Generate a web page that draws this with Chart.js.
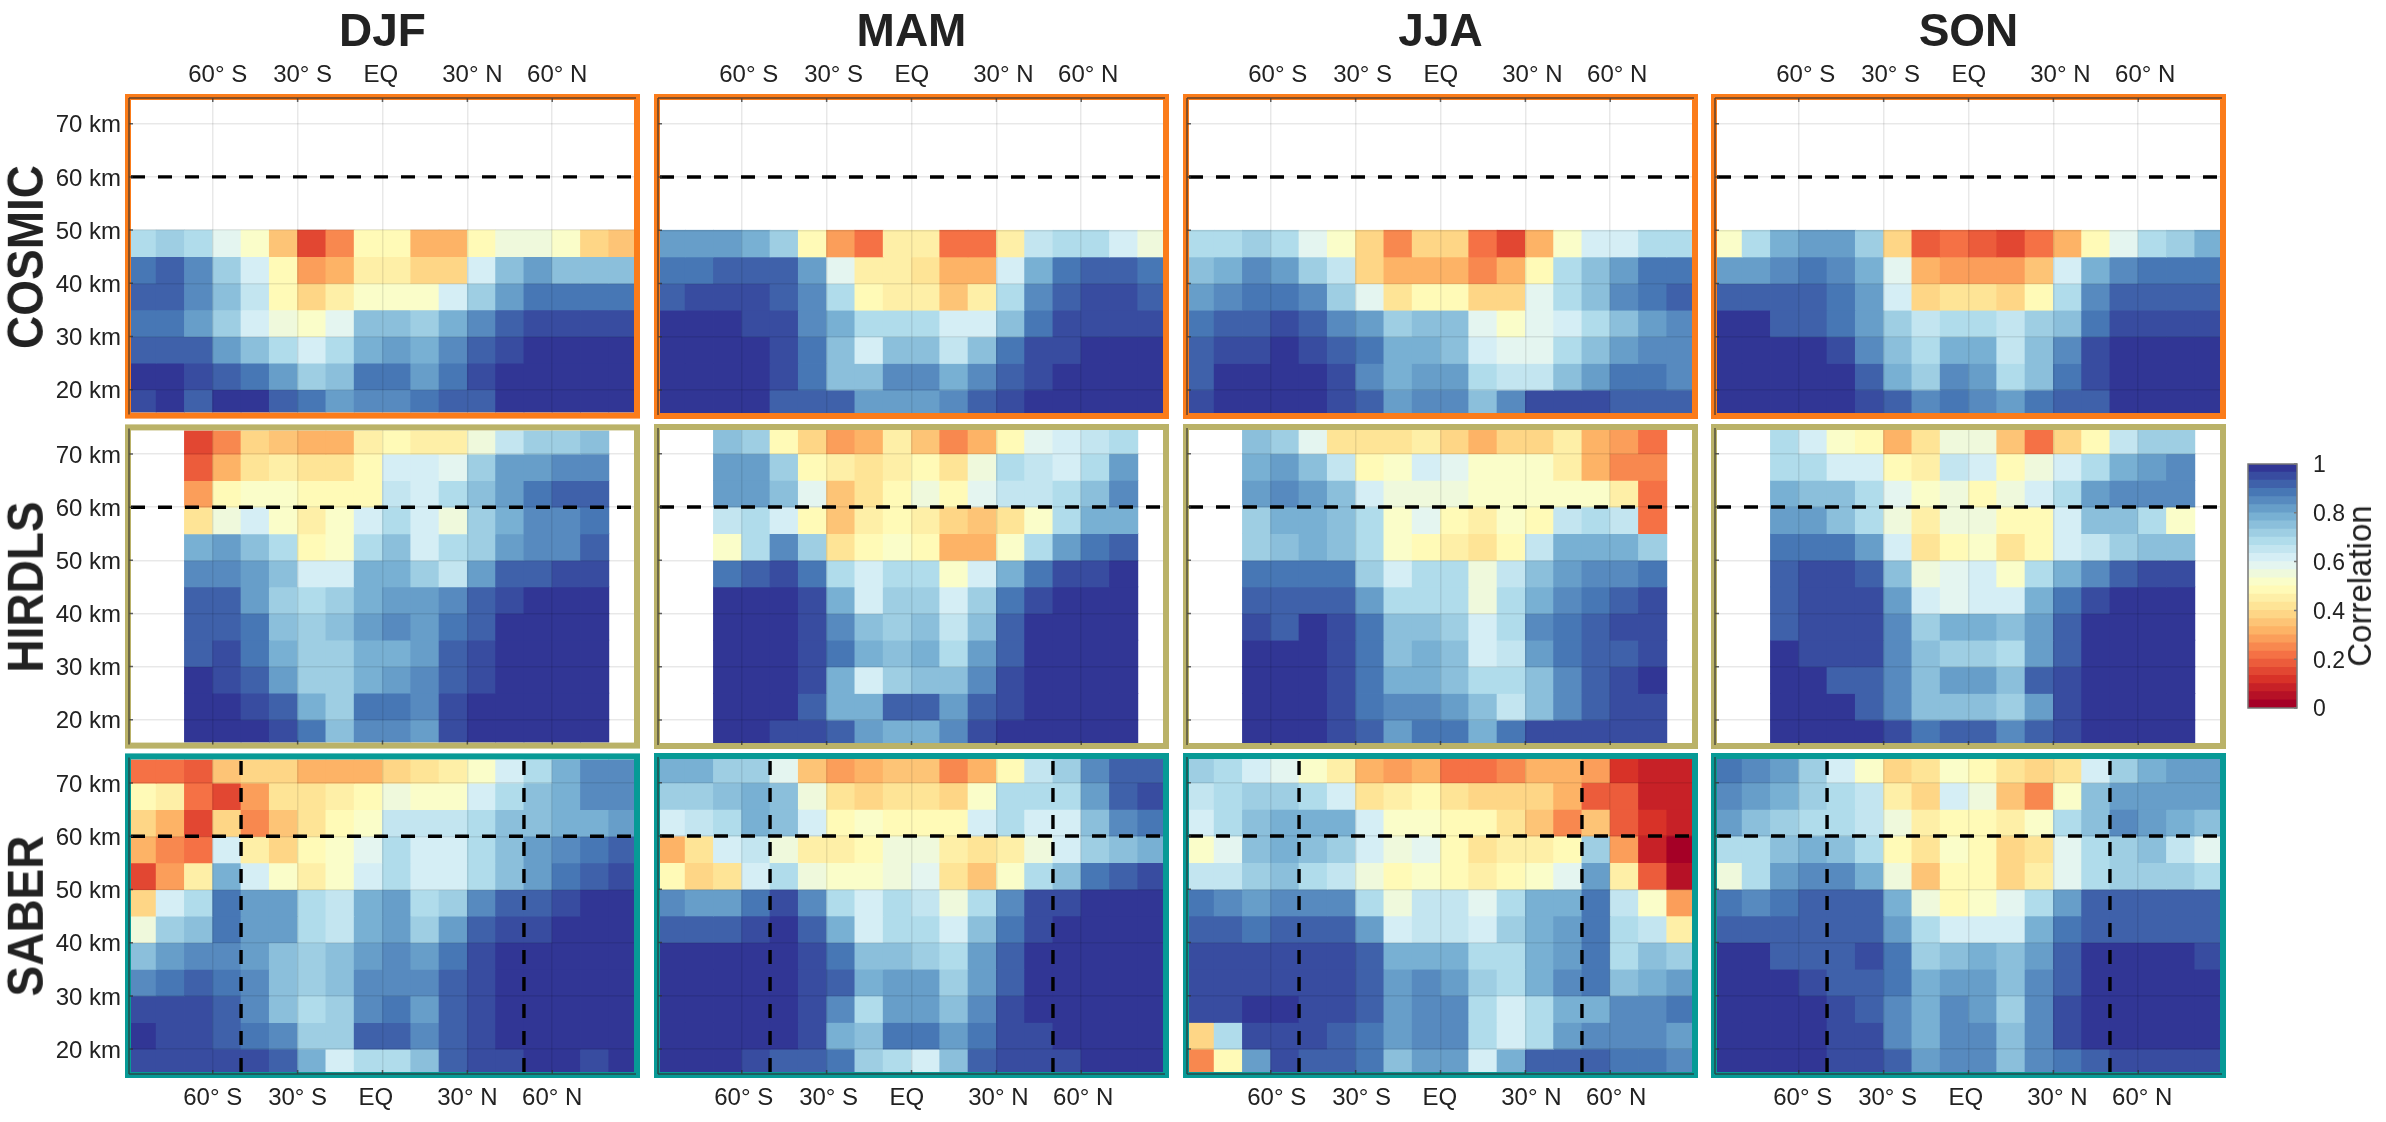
<!DOCTYPE html>
<html>
<head>
<meta charset="utf-8">
<title>Correlation by season and instrument</title>
<script src="https://cdn.jsdelivr.net/npm/chart.js@4/dist/chart.umd.js"></script>
<style>
    html, body { margin: 0; padding: 0; background: #fff; }
    #page { position: relative; width: 2386px; height: 1122px; overflow: hidden; }
    #page canvas { position: absolute; }
    .label { position: absolute; font-family: "Liberation Sans", Arial, sans-serif; color: #222; white-space: nowrap; transform: translate(-50%, -50%); }
    .label.bold { font-weight: bold; }
    .label.turned { transform: translate(-50%, -50%) rotate(-90deg); }
    .label.turned.bold { transform: translate(-50%, -50%) rotate(-90deg) scale(1, 1.08); }
</style>
</head>
<body>
<div id="page"></div>
<script>
const seasons = ['DJF', 'MAM', 'JJA', 'SON'];
const instruments = ['COSMIC', 'HIRDLS', 'SABER'];

const latTicks = [-60, -30, 0, 30, 60];
const latLabels = ['60° S', '30° S', 'EQ\u00a0\u00a0', '30° N', '60° N'];
const altTicks = [20, 30, 40, 50, 60, 70];
const colorbarTicks = [0, 0.2, 0.4, 0.6, 0.8, 1];

// cell centres (10 degree columns) and lower edges of the 5 km rows, top row first
const latCells = [-85, -75, -65, -55, -45, -35, -25, -15, -5, 5, 15, 25, 35, 45, 55, 65, 75, 85];
const altCells = [70, 65, 60, 55, 50, 45, 40, 35, 30, 25, 20, 15];

// reference lines
const refAlt = [60];
const refLat = [-50, 50];

const _ = null;

// RdYlBu, low to high
const colorStops = ['#a50026', '#d73027', '#f46d43', '#fdae61', '#fee090', '#ffffbf', '#e0f3f8', '#abd9e9', '#74add1', '#4575b4', '#313695'];
const colorLevels = 30;

// COSMIC only reaches 50 km, the rows above are empty
const cosmicDJF = [
    [.69,.73,.69,.57,.50,.36,.14,.24,.48,.48,.33,.33,.49,.56,.54,.50,.39,.34],
    [.89,.91,.85,.73,.61,.49,.27,.31,.46,.46,.39,.39,.61,.76,.80,.76,.76,.76],
    [.91,.91,.85,.75,.64,.49,.37,.45,.53,.53,.50,.60,.72,.82,.89,.89,.89,.89],
    [.88,.88,.82,.73,.60,.54,.53,.59,.74,.74,.73,.79,.85,.91,.94,.94,.94,.94],
    [.93,.93,.91,.82,.76,.67,.63,.69,.79,.82,.78,.85,.92,.94,.99,.99,.99,.99],
    [.98,.98,.94,.91,.88,.82,.73,.76,.88,.88,.82,.88,.94,.99,.99,.99,.99,.99],
    [.94,.98,.93,.98,.98,.93,.88,.82,.85,.85,.88,.91,.93,.99,.99,.99,.99,.99]
];
const cosmicMAM = [
    [.82,.82,.82,.79,.73,.49,.27,.21,.44,.44,.21,.20,.46,.64,.69,.69,.61,.54],
    [.88,.88,.91,.91,.91,.82,.58,.44,.44,.41,.33,.33,.60,.79,.88,.91,.91,.88],
    [.91,.94,.94,.94,.91,.85,.68,.48,.45,.45,.35,.45,.67,.84,.91,.94,.94,.91],
    [.98,.98,.98,.94,.94,.85,.79,.69,.69,.69,.60,.63,.75,.88,.94,.94,.94,.94],
    [.98,.98,.98,.98,.94,.88,.75,.63,.76,.76,.66,.75,.89,.94,.94,.98,.98,.98],
    [.98,.98,.98,.98,.94,.88,.75,.75,.85,.85,.78,.85,.91,.94,.98,.98,.98,.98],
    [.98,.98,.98,.98,.93,.93,.91,.82,.82,.82,.85,.91,.94,.98,.98,.98,.98,.98]
];
const cosmicJJA = [
    [.69,.69,.73,.69,.57,.53,.38,.24,.38,.37,.20,.14,.32,.53,.61,.63,.69,.67],
    [.76,.79,.85,.82,.73,.64,.38,.30,.31,.30,.26,.32,.49,.67,.76,.82,.89,.89],
    [.82,.85,.88,.88,.85,.73,.57,.42,.49,.49,.38,.38,.57,.69,.76,.85,.89,.91],
    [.88,.91,.93,.94,.91,.85,.82,.73,.76,.74,.57,.50,.57,.63,.69,.75,.82,.85],
    [.91,.94,.94,.98,.94,.92,.88,.79,.79,.76,.63,.57,.57,.67,.76,.82,.85,.85],
    [.91,.98,.98,.98,.98,.94,.85,.79,.82,.82,.69,.66,.66,.76,.82,.88,.88,.85],
    [.94,.98,.98,.98,.98,.94,.91,.82,.85,.85,.75,.85,.94,.94,.94,.91,.91,.91]
];
const cosmicSON = [
    [.50,.69,.79,.82,.82,.73,.37,.17,.21,.17,.14,.20,.32,.47,.58,.69,.73,.79],
    [.82,.82,.85,.88,.85,.79,.57,.32,.27,.27,.27,.36,.60,.79,.85,.88,.88,.88],
    [.91,.91,.91,.91,.88,.82,.60,.39,.43,.43,.39,.49,.68,.85,.91,.91,.91,.91],
    [.98,.98,.93,.91,.88,.82,.70,.64,.69,.69,.65,.73,.76,.88,.94,.94,.94,.94],
    [.98,.98,.98,.98,.94,.85,.75,.69,.79,.79,.64,.75,.85,.94,.98,.98,.98,.98],
    [.98,.98,.98,.98,.98,.91,.79,.73,.85,.82,.69,.75,.88,.94,.98,.98,.98,.98],
    [.98,.98,.98,.98,.98,.94,.91,.85,.88,.85,.82,.88,.91,.93,.98,.98,.98,.98]
];

const hirdlsDJF = [
    [_,_,.15,.25,.38,.36,.30,.33,.45,.48,.46,.46,.54,.66,.73,.71,.76,_],
    [_,_,.17,.32,.41,.45,.40,.40,.49,.63,.60,.59,.72,.80,.82,.85,.85,_],
    [_,_,.29,.49,.53,.50,.49,.48,.49,.64,.60,.67,.76,.82,.88,.91,.91,_],
    [_,_,.41,.56,.60,.50,.46,.50,.60,.67,.63,.56,.72,.79,.85,.85,.88,_],
    [_,_,.79,.80,.76,.67,.49,.53,.69,.76,.62,.67,.72,.82,.85,.85,.91,_],
    [_,_,.85,.85,.82,.76,.60,.63,.79,.79,.70,.66,.82,.92,.92,.94,.94,_],
    [_,_,.91,.91,.82,.73,.67,.70,.79,.82,.80,.85,.91,.94,.98,.98,.98,_],
    [_,_,.93,.91,.88,.76,.70,.76,.82,.85,.82,.88,.93,.98,.98,.98,.98,_],
    [_,_,.93,.94,.88,.79,.73,.73,.79,.79,.82,.91,.94,.98,.98,.98,.98,_],
    [_,_,.98,.94,.91,.82,.73,.70,.79,.82,.85,.91,.94,.98,.98,.98,.98,_],
    [_,_,.98,.98,.94,.92,.79,.70,.88,.88,.85,.94,.98,.98,.98,.98,.98,_],
    [_,_,.98,.98,.98,.94,.88,.75,.85,.85,.82,.94,.98,.98,.98,.98,.98,_]
];
const hirdlsMAM = [
    [_,_,.76,.73,.49,.37,.27,.33,.46,.36,.26,.33,.47,.57,.62,.65,.69,_],
    [_,_,.82,.82,.73,.49,.46,.41,.46,.48,.41,.56,.68,.65,.62,.68,.82,_],
    [_,_,.82,.82,.76,.57,.35,.41,.49,.54,.49,.57,.64,.64,.68,.76,.85,_],
    [_,_,.65,.69,.63,.49,.35,.46,.48,.45,.37,.35,.41,.53,.69,.79,.79,_],
    [_,_,.50,.69,.85,.73,.40,.48,.53,.49,.33,.31,.50,.69,.82,.89,.92,_],
    [_,_,.89,.91,.94,.88,.67,.60,.69,.68,.53,.60,.79,.88,.94,.94,.98,_],
    [_,_,.98,.98,.98,.94,.79,.63,.73,.73,.60,.72,.88,.94,.98,.98,.98,_],
    [_,_,.98,.98,.98,.94,.85,.75,.73,.74,.66,.75,.91,.98,.98,.98,.98,_],
    [_,_,.98,.98,.98,.94,.89,.79,.75,.79,.69,.82,.91,.98,.98,.98,.98,_],
    [_,_,.98,.98,.98,.94,.79,.62,.73,.76,.76,.85,.94,.98,.98,.98,.98,_],
    [_,_,.98,.98,.98,.91,.79,.79,.91,.91,.82,.91,.94,.98,.98,.98,.98,_],
    [_,_,.98,.98,.94,.94,.91,.82,.79,.79,.85,.94,.98,.98,.98,.98,.98,_]
];
const hirdlsJJA = [
    [_,_,.75,.72,.57,.41,.41,.41,.46,.37,.33,.37,.39,.46,.33,.27,.23,_],
    [_,_,.79,.82,.75,.64,.49,.50,.60,.57,.53,.50,.50,.46,.32,.24,.24,_],
    [_,_,.82,.85,.82,.75,.60,.54,.56,.54,.51,.50,.50,.50,.53,.46,.20,_],
    [_,_,.73,.79,.79,.76,.67,.50,.57,.49,.46,.50,.49,.64,.69,.64,.20,_],
    [_,_,.73,.76,.79,.76,.67,.50,.48,.46,.41,.49,.64,.79,.79,.79,.73,_],
    [_,_,.88,.88,.88,.88,.72,.60,.69,.67,.56,.64,.76,.82,.85,.85,.88,_],
    [_,_,.93,.93,.93,.93,.82,.67,.69,.69,.56,.67,.79,.85,.88,.91,.94,_],
    [_,_,.94,.93,.98,.94,.88,.76,.76,.72,.63,.69,.85,.88,.91,.94,.94,_],
    [_,_,.98,.98,.98,.94,.88,.76,.79,.76,.63,.65,.82,.88,.91,.91,.94,_],
    [_,_,.98,.98,.98,.94,.88,.79,.79,.76,.68,.69,.76,.85,.91,.94,.98,_],
    [_,_,.98,.98,.98,.94,.88,.85,.85,.82,.76,.65,.75,.85,.91,.94,.94,_],
    [_,_,.98,.98,.98,.94,.91,.82,.88,.88,.79,.88,.94,.94,.94,.94,.94,_]
];
const hirdlsSON = [
    [_,_,.69,.63,.53,.49,.33,.41,.56,.54,.36,.20,.37,.47,.66,.73,.73,_],
    [_,_,.68,.67,.62,.60,.47,.45,.64,.61,.49,.54,.63,.69,.79,.82,.85,_],
    [_,_,.79,.76,.75,.69,.57,.50,.56,.49,.54,.60,.69,.82,.85,.85,.85,_],
    [_,_,.82,.82,.75,.68,.54,.45,.56,.56,.47,.47,.62,.76,.76,.68,.53,_],
    [_,_,.88,.88,.88,.82,.60,.42,.48,.53,.41,.47,.63,.65,.73,.74,.76,_],
    [_,_,.91,.94,.94,.91,.76,.54,.57,.63,.53,.67,.79,.85,.91,.94,.94,_],
    [_,_,.93,.94,.94,.94,.82,.62,.57,.60,.62,.79,.88,.94,.98,.98,.98,_],
    [_,_,.93,.94,.94,.94,.85,.72,.78,.79,.75,.82,.91,.98,.98,.98,.98,_],
    [_,_,.98,.94,.94,.94,.85,.75,.70,.70,.67,.82,.91,.98,.98,.98,.98,_],
    [_,_,.98,.98,.93,.91,.85,.76,.82,.82,.75,.91,.94,.98,.98,.98,.98,_],
    [_,_,.98,.98,.98,.93,.85,.75,.75,.75,.73,.82,.94,.98,.98,.98,.98,_],
    [_,_,.98,.98,.98,.98,.94,.88,.91,.91,.85,.91,.94,.98,.98,.98,.98,_]
];

const saberDJF = [
    [.22,.22,.17,.35,.37,.39,.30,.30,.33,.39,.41,.45,.53,.63,.69,.79,.85,.85],
    [.49,.46,.23,.16,.29,.41,.42,.46,.47,.56,.53,.53,.63,.69,.76,.79,.85,.85],
    [.38,.30,.16,.37,.26,.35,.41,.49,.53,.64,.64,.64,.69,.74,.76,.79,.79,.82],
    [.33,.26,.23,.62,.46,.38,.47,.50,.59,.69,.63,.60,.69,.75,.82,.85,.89,.91],
    [.15,.27,.45,.79,.60,.53,.46,.53,.63,.67,.60,.60,.69,.75,.82,.89,.91,.94],
    [.38,.60,.69,.89,.82,.82,.68,.65,.79,.82,.69,.72,.85,.92,.92,.94,.98,.98],
    [.54,.73,.75,.89,.82,.82,.68,.65,.79,.82,.72,.82,.92,.94,.94,.98,.98,.98],
    [.75,.82,.85,.85,.82,.76,.70,.75,.82,.85,.82,.88,.94,.98,.98,.98,.98,.98],
    [.85,.88,.91,.88,.85,.76,.70,.76,.85,.85,.85,.91,.94,.98,.98,.98,.98,.98],
    [.94,.94,.94,.91,.85,.76,.69,.73,.85,.88,.82,.91,.94,.98,.98,.98,.98,.98],
    [.98,.94,.94,.93,.88,.85,.73,.73,.91,.91,.85,.91,.94,.98,.98,.98,.98,.98],
    [.94,.94,.94,.94,.94,.91,.79,.62,.69,.69,.76,.91,.94,.94,.98,.98,.94,.98]
];
const saberMAM = [
    [.79,.79,.73,.72,.59,.36,.27,.30,.36,.36,.26,.33,.47,.64,.72,.85,.91,.91],
    [.73,.73,.76,.79,.76,.56,.41,.38,.41,.41,.37,.53,.68,.68,.69,.82,.92,.94],
    [.60,.64,.69,.79,.76,.62,.49,.50,.49,.49,.49,.60,.67,.60,.63,.76,.85,.88],
    [.31,.41,.60,.64,.54,.45,.44,.49,.56,.54,.45,.41,.45,.55,.60,.73,.76,.79],
    [.47,.39,.42,.60,.69,.54,.50,.50,.56,.57,.40,.35,.50,.69,.75,.89,.91,.94],
    [.85,.82,.82,.88,.94,.85,.69,.60,.67,.64,.55,.69,.85,.94,.94,.98,.98,.98],
    [.91,.91,.91,.94,.98,.91,.79,.63,.69,.67,.60,.75,.88,.94,.98,.98,.98,.98],
    [.98,.98,.98,.98,.98,.94,.88,.75,.75,.73,.69,.82,.91,.98,.98,.98,.98,.98],
    [.98,.98,.98,.98,.98,.94,.91,.79,.82,.82,.73,.82,.91,.98,.98,.98,.98,.98],
    [.98,.98,.98,.98,.98,.94,.85,.68,.82,.82,.76,.85,.94,.98,.98,.98,.98,.98],
    [.98,.98,.98,.98,.98,.94,.79,.75,.88,.88,.82,.88,.94,.94,.98,.98,.98,.98],
    [.98,.98,.98,.94,.92,.92,.88,.73,.67,.63,.76,.91,.94,.94,.94,.98,.98,.98]
];
const saberJJA = [
    [.73,.69,.63,.59,.50,.46,.30,.27,.30,.22,.22,.26,.32,.32,.27,.10,.07,.07],
    [.66,.69,.73,.73,.69,.63,.40,.45,.49,.40,.38,.38,.38,.30,.18,.17,.07,.07],
    [.63,.69,.76,.79,.79,.79,.60,.50,.53,.49,.47,.41,.36,.24,.36,.17,.13,.07],
    [.53,.59,.76,.79,.76,.73,.63,.54,.57,.48,.41,.45,.46,.49,.70,.27,.08,.03],
    [.66,.66,.73,.75,.69,.66,.56,.47,.53,.49,.46,.49,.53,.59,.80,.46,.17,.06],
    [.88,.85,.82,.85,.85,.85,.69,.56,.65,.65,.59,.69,.79,.79,.88,.66,.53,.28],
    [.91,.91,.88,.91,.91,.91,.82,.62,.65,.65,.63,.72,.79,.82,.88,.69,.66,.46],
    [.94,.94,.94,.94,.94,.94,.91,.79,.79,.79,.69,.69,.79,.82,.88,.69,.75,.71],
    [.94,.94,.94,.94,.94,.94,.91,.82,.85,.82,.72,.69,.79,.85,.88,.76,.79,.82],
    [.94,.94,.98,.98,.94,.94,.91,.82,.85,.85,.69,.63,.68,.79,.79,.85,.85,.88],
    [.37,.69,.94,.94,.94,.91,.88,.82,.85,.85,.69,.62,.68,.82,.85,.85,.85,.82],
    [.25,.49,.82,.94,.91,.91,.88,.75,.82,.82,.63,.79,.91,.91,.91,.88,.88,.85]
];
const saberSON = [
    [.88,.85,.82,.72,.63,.50,.37,.42,.50,.48,.41,.38,.42,.62,.73,.79,.82,.82],
    [.85,.82,.79,.73,.69,.65,.45,.38,.60,.56,.35,.26,.53,.75,.82,.82,.82,.82],
    [.82,.76,.73,.69,.67,.65,.54,.46,.48,.48,.45,.53,.69,.76,.85,.82,.79,.76],
    [.69,.69,.76,.79,.75,.69,.49,.41,.53,.49,.38,.41,.57,.68,.73,.75,.66,.57],
    [.56,.69,.82,.85,.85,.79,.56,.35,.47,.49,.39,.46,.57,.67,.73,.73,.73,.69],
    [.89,.85,.89,.91,.91,.91,.79,.56,.48,.53,.57,.69,.82,.91,.91,.91,.91,.91],
    [.93,.93,.91,.93,.93,.91,.82,.67,.60,.60,.60,.79,.88,.93,.93,.93,.93,.93],
    [.98,.98,.93,.93,.93,.94,.88,.72,.75,.79,.76,.82,.91,.98,.98,.98,.98,.94],
    [.98,.98,.98,.94,.93,.93,.88,.79,.82,.82,.76,.85,.91,.98,.98,.98,.98,.98],
    [.98,.98,.98,.98,.94,.91,.85,.79,.85,.82,.72,.85,.94,.98,.98,.98,.98,.98],
    [.98,.98,.98,.98,.94,.94,.85,.79,.85,.85,.76,.85,.94,.98,.98,.98,.98,.98],
    [.98,.98,.98,.98,.94,.94,.91,.82,.85,.85,.75,.85,.88,.91,.94,.94,.94,.94]
];

const panelData = [
    [cosmicDJF, cosmicMAM, cosmicJJA, cosmicSON],
    [hirdlsDJF, hirdlsMAM, hirdlsJJA, hirdlsSON],
    [saberDJF, saberMAM, saberJJA, saberSON]
];

// layout of the page, in pixels
const colLeft = [131, 660, 1189, 1717];
const rowTop = [100, 430, 759];
const plotWidth = 503;
const plotHeight = 313;
const outerPad = 24;
const frameColors = ['#fb7c1a', '#bab268', '#079a96'];
const topLabelShift = [5, 7, 7, 7];
const bottomLabelShift = [0, 2, 6, 4];
const latRange = [-88.9, 88.9];
const altRange = [15.7, 74.45];
const textFont = '"Liberation Sans", Arial, sans-serif';
const textColor = '#222';

Chart.defaults.font.family = textFont;
Chart.defaults.color = textColor;
Chart.defaults.animation = false;

function colorFor(value) {
    const level = Math.min(Math.floor(value * colorLevels), colorLevels - 1);
    const pos = level / (colorLevels - 1) * (colorStops.length - 1);
    const i = Math.min(Math.floor(pos), colorStops.length - 2);
    const t = pos - i;
    const a = parseInt(colorStops[i].slice(1), 16);
    const b = parseInt(colorStops[i + 1].slice(1), 16);
    const mix = shift => Math.round(((a >> shift) & 255) * (1 - t) + ((b >> shift) & 255) * t);
    return `rgb(${mix(16)},${mix(8)},${mix(0)})`;
}

// coloured box, axis lines and inward tick marks round a panel
const panelFrame = {
    id: 'panelFrame',
    afterDraw(chart, args, opts) {
        const { ctx, chartArea: area, scales } = chart;
        ctx.save();
        ctx.strokeStyle = opts.color;
        ctx.lineWidth = 6;
        ctx.strokeRect(area.left - 3, area.top - 3, area.width + 6, area.height + 6);

        ctx.strokeStyle = 'rgba(50,50,50,0.75)';
        ctx.lineWidth = 1.5;
        const edgeY = opts.row === 2 ? area.bottom + 2 : area.top - 2;
        ctx.beginPath();
        ctx.moveTo(area.left - 2, area.top - 2);
        ctx.lineTo(area.left - 2, area.bottom + 2);
        if (opts.row !== 1) {
            ctx.moveTo(area.left - 2, edgeY);
            ctx.lineTo(area.right + 2, edgeY);
        }
        altTicks.forEach(v => {
            const y = scales.y.getPixelForValue(v);
            ctx.moveTo(area.left - 2, y);
            ctx.lineTo(area.left + 2, y);
        });
        latTicks.forEach(v => {
            const x = scales.x.getPixelForValue(v);
            ctx.moveTo(x, opts.row === 0 ? area.top - 2 : area.bottom + 2);
            ctx.lineTo(x, opts.row === 0 ? area.top + 2 : area.bottom - 2);
        });
        ctx.stroke();
        ctx.restore();
    }
};

function dashedLine(points, width) {
    return {
        type: 'line',
        data: points,
        borderColor: '#000',
        borderWidth: width,
        borderDash: [14, 13],
        pointRadius: 0,
        order: 0
    };
}

function buildDatasets(rows, instrumentIndex) {
    const offset = altCells.length - rows.length;
    const datasets = rows.map((row, r) => {
        const low = altCells[r + offset];
        const cells = [];
        const colors = [];
        row.forEach((value, c) => {
            if (value === null) return;
            cells.push({ x: latCells[c], y: [low, low + 5] });
            colors.push(colorFor(value));
        });
        return {
            type: 'bar',
            data: cells,
            backgroundColor: colors,
            borderWidth: 0,
            inflateAmount: 0.4,
            grouped: false,
            barPercentage: 1,
            categoryPercentage: 1,
            order: 1
        };
    });

    refAlt.forEach(alt => {
        datasets.push(dashedLine(latRange.map(lat => ({ x: lat, y: alt })), 3.4));
    });
    // only the SABER panels carry the latitude limits
    if (instrumentIndex === 2) {
        refLat.forEach(lat => {
            datasets.push(dashedLine(altRange.map(alt => ({ x: lat, y: alt })), 3.4));
        });
    }
    return datasets;
}

function addPanel(row, col) {
    const left = col === 0 ? 0 : colLeft[col] - outerPad;
    const top = row === 0 ? 0 : rowTop[row] - outerPad;
    const right = colLeft[col] + plotWidth + outerPad;
    const bottom = row === 2 ? 1122 : rowTop[row] + plotHeight + outerPad;

    const canvas = document.createElement('canvas');
    canvas.width = right - left;
    canvas.height = bottom - top;
    canvas.style.left = left + 'px';
    canvas.style.top = top + 'px';
    document.getElementById('page').appendChild(canvas);

    const latAxisSize = row === 0 ? rowTop[0] : row === 2 ? 1122 - rowTop[2] - plotHeight : 0;
    const altAxisSize = col === 0 ? colLeft[0] : 0;

    new Chart(canvas, {
        data: { datasets: buildDatasets(panelData[row][col], row) },
        options: {
            responsive: false,
            devicePixelRatio: 1,
            layout: {
                padding: {
                    left: col === 0 ? 0 : outerPad,
                    right: outerPad,
                    top: row === 0 ? 0 : outerPad,
                    bottom: row === 2 ? 0 : outerPad
                }
            },
            plugins: {
                legend: { display: false },
                tooltip: { enabled: false },
                panelFrame: { color: frameColors[row], row: row }
            },
            scales: {
                x: {
                    type: 'linear',
                    position: row === 2 ? 'bottom' : 'top',
                    min: latRange[0],
                    max: latRange[1],
                    offset: false,
                    afterBuildTicks: scale => { scale.ticks = latTicks.map(v => ({ value: v })); },
                    afterFit: scale => { scale.height = latAxisSize; },
                    grid: { offset: false, z: 1, color: 'rgba(0,0,0,0.09)', lineWidth: 1.5, drawTicks: false },
                    border: { display: false },
                    ticks: {
                        display: row !== 1,
                        autoSkip: false,
                        maxRotation: 0,
                        labelOffset: row === 0 ? topLabelShift[col] : bottomLabelShift[col],
                        padding: row === 0 ? 10 : 12,
                        font: { size: 24 },
                        color: textColor,
                        callback: (value, i) => latLabels[i]
                    }
                },
                y: {
                    type: 'linear',
                    position: 'left',
                    min: altRange[0],
                    max: altRange[1],
                    afterBuildTicks: scale => { scale.ticks = altTicks.map(v => ({ value: v })); },
                    afterFit: scale => { scale.width = altAxisSize; },
                    grid: { z: 1, color: 'rgba(0,0,0,0.09)', lineWidth: 1.5, drawTicks: false },
                    border: { display: false },
                    ticks: {
                        display: col === 0,
                        padding: 10,
                        labelOffset: 2,
                        font: { size: 24 },
                        color: textColor,
                        callback: value => value + ' km'
                    }
                }
            }
        },
        plugins: [panelFrame]
    });
}

// colour scale on the right
const barFrame = {
    id: 'barFrame',
    afterDraw(chart) {
        const { ctx, chartArea: area, scales } = chart;
        ctx.save();
        ctx.strokeStyle = '#777';
        ctx.lineWidth = 1.5;
        ctx.strokeRect(area.left, area.top, area.width, area.height);
        ctx.beginPath();
        colorbarTicks.forEach(v => {
            const y = scales.y.getPixelForValue(v);
            ctx.moveTo(area.right - 3, y);
            ctx.lineTo(area.right, y);
        });
        ctx.stroke();
        ctx.restore();
    }
};

function addColorbar() {
    const canvas = document.createElement('canvas');
    canvas.width = 146;
    canvas.height = 292;
    canvas.style.left = '2240px';
    canvas.style.top = '440px';
    document.getElementById('page').appendChild(canvas);

    const bands = [];
    for (let i = 0; i < colorLevels; i++) {
        bands.push({
            type: 'bar',
            data: [{ x: 'Correlation', y: [i / colorLevels, (i + 1) / colorLevels] }],
            backgroundColor: colorFor((i + 0.5) / colorLevels),
            borderWidth: 0,
            inflateAmount: 0.4,
            grouped: false,
            barPercentage: 1,
            categoryPercentage: 1
        });
    }

    new Chart(canvas, {
        data: { labels: ['Correlation'], datasets: bands },
        options: {
            responsive: false,
            devicePixelRatio: 1,
            layout: { padding: { left: 8, top: 24, bottom: 24 } },
            plugins: { legend: { display: false }, tooltip: { enabled: false } },
            scales: {
                x: {
                    type: 'category',
                    grid: { display: false },
                    border: { display: false },
                    ticks: { display: false },
                    afterFit: scale => { scale.height = 0; }
                },
                y: {
                    type: 'linear',
                    position: 'right',
                    min: 0,
                    max: 1,
                    afterBuildTicks: scale => { scale.ticks = colorbarTicks.map(v => ({ value: v })); },
                    afterFit: scale => { scale.width = 89; },
                    grid: { display: false },
                    border: { display: false },
                    ticks: { padding: 8, labelOffset: 2, font: { size: 23 }, color: textColor, callback: value => String(value) }
                }
            }
        },
        plugins: [barFrame]
    });
}

function addLabel(text, x, y, size, classes) {
    const el = document.createElement('div');
    el.className = 'label ' + classes;
    el.textContent = text;
    el.style.left = x + 'px';
    el.style.top = y + 'px';
    el.style.fontSize = size + 'px';
    document.getElementById('page').appendChild(el);
}

instruments.forEach((name, row) => {
    seasons.forEach((season, col) => addPanel(row, col));
    addLabel(name, 26, rowTop[row] + plotHeight / 2, 46, 'bold turned');
});
seasons.forEach((season, col) => addLabel(season, colLeft[col] + plotWidth / 2, 30, 46, 'bold'));
addColorbar();
addLabel('Correlation', 2360, 586, 33, 'turned');
</script>
</body>
</html>
